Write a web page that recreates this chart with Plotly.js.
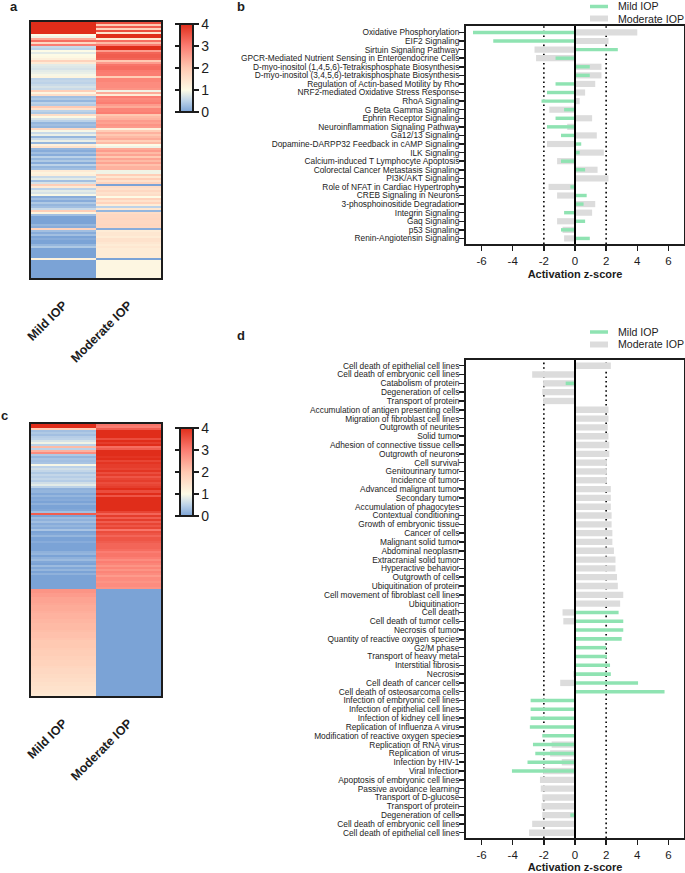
<!DOCTYPE html>
<html><head><meta charset="utf-8">
<script src="https://cdn.plot.ly/plotly-3.0.1.min.js"></script>
<style>html,body{margin:0;padding:0;background:#fff}#p{width:685px;height:873px}</style>
</head><body><div id="p"></div>
<script>
const heatCols = ['Mild IOP','Moderate IOP'];
const mildA = [4,4,4,4,4,4,1.0,0.9,2.4,3.2,
1.7,3.0,0.6,0.5,1.0,0.8,1.0,1.05,1.2,1.8,
1.35,0.8,0.75,0.7,0.8,0.85,0.95,1.15,0.5,0.55,
0.5,0.6,0.7,0.6,1.9,1.1,1.6,0.3,0.4,0.2,
0.5,0.4,2.0,1.5,0.5,0.4,1.6,1.05,0.7,0.5,
0.2,0.3,0.2,1.7,0.95,0.6,0.85,0.2,0.6,0.85,
0.2,1.2,1.5,0.2,0.1,0.3,0.1,0.5,0.2,0.4,
0.1,0.5,0.2,0.3,1.35,1.15,1.25,0.6,0.8,0.3,
0.7,1.9,1.35,0.5,0.8,0.7,0.95,0.1,0.3,0.1,
0.4,0.2,0.3,0.6,1.9,1.15,0.3,0,0,0,
0,0.2,0.1,1.8,0.3,0.1,0.3,0,0.1,0,
0,0.2,0.4,0,0,0,0,0,1.2,0,0,0,0,0,0,0,0,0];
const modA = [3.6,2.0,3.4,1.8,3.6,1.5,4,4,1.3,3.2,
2.2,3.0,4,4,2.6,3.3,3.4,3.4,3.3,2.0,
2.6,3.1,3.2,3.2,3.05,3.0,3.0,1.9,2.9,2.9,
2.8,2.8,2.8,2.7,0.9,2.4,1.3,3.0,2.8,2.9,
3.0,2.6,2.4,2.9,2.9,3.0,2.0,2.2,2.3,2.6,
2.5,2.7,2.6,1.2,1.9,2.3,2.0,2.2,2.4,1.9,
2.2,1.0,0.9,2.4,2.6,2.2,2.5,2.0,2.5,2.2,
2.5,2.1,2.3,2.3,0.9,0.9,1.9,1.4,1.9,1.5,
1.8,0,1.6,1.5,1.7,1.5,1.6,1.0,1.8,1.5,
1.8,1.3,0.5,1.4,0.2,1.6,1.7,1.7,1.75,1.7,
1.7,1.75,1.7,0.1,1.3,1.4,1.4,1.3,1.5,1.5,
1.4,1.3,1.4,1.3,1.3,1.3,1.3,1.3,0,1.1,1.1,1.1,1.1,1.1,1.1,1.1,1.1,1.1];
const mildC = [4,4,1.9,0.3,0.4,0.3,0.45,0.5,0.7,0.9,
0.5,2.2,0.5,2.3,2.8,0.4,0.2,0.35,0.3,0.35,
0.95,0.5,0.65,0.55,0.4,0.55,0.45,0.55,0.45,0.65,
0.8,0.5,0.15,0.2,0.05,0.2,0.05,0.1,0,0.15,
0,0,0.05,0.3,3.4,0,0.25,0.15,0.3,0.1,
0.2,0.1,0.35,0,0.05,0.2,0,0,0.1,0,
0,0,0,0.15,0.2,0,0.15,0.25,0.05,0,
0.25,0.05,0.2,0,0.15,0,0,0,0,0,
0,0,
2.7,2.7,2.6,2.6,2.5,2.5,2.5,2.45,2.4,2.4,
2.4,2.35,2.3,2.3,2.3,2.25,2.25,2.2,2.2,2.2,
2.15,2.1,2.1,2.1,2.05,2,2,2,2,1.95,
1.9,1.9,1.9,1.85,1.85,1.8,1.8,1.8,1.75,1.7,
1.7,1.7,1.65,1.65,1.6,1.6,1.55,1.55,1.5,1.5,
1.45,1.4,1.35];
const modC = [3.1,3.0,3.4,4,4,4,4,3.6,4,3.8,
4,3.2,3.4,4,4,4,3.9,4,3.7,3.9,
3.8,3.8,3.7,3.9,3.6,3.8,3.5,3.7,3.8,3.6,
3.7,3.8,4,3.6,4,3.5,4,4,4,4,
4,4,4,3.7,3.3,3.8,3.4,3.8,3.4,3.7,
3.5,3.7,3.1,3.6,3.5,3.3,3.5,3.5,3.4,3.3,
3.3,3.3,3.2,3.0,3.1,3.1,3.0,2.8,3.0,2.9,
2.7,2.9,2.7,2.9,2.8,2.6,2.8,2.8,2.7,2.8,
2.8,2.7,
0,0,0,0,0,0,0,0,0,0,
0,0,0,0,0,0,0,0,0,0,
0,0,0,0,0,0,0,0,0,0,
0,0,0,0,0,0,0,0,0,0,
0,0,0,0,0,0,0,0,0,0,
0,0,0];

const pathwaysB = ['Oxidative Phosphorylation','EIF2 Signaling','Sirtuin Signaling Pathway','GPCR-Mediated Nutrient Sensing in Enteroendocrine Cells','D-myo-inositol (1,4,5,6)-Tetrakisphosphate Biosynthesis','D-myo-inositol (3,4,5,6)-tetrakisphosphate Biosynthesis','Regulation of Actin-based Motility by Rho','NRF2-mediated Oxidative Stress Response','RhoA Signaling','G Beta Gamma Signaling','Ephrin Receptor Signaling','Neuroinflammation Signaling Pathway','Ga12/13 Signaling','Dopamine-DARPP32 Feedback in cAMP Signaling','ILK Signaling','Calcium-induced T Lymphocyte Apoptosis','Colorectal Cancer Metastasis Signaling','PI3K/AKT Signaling','Role of NFAT in Cardiac Hypertrophy','CREB Signaling in Neurons','3-phosphoinositide Degradation','Integrin Signaling','Gaq Signaling','p53 Signaling','Renin-Angiotensin Signaling'];
const mildB = [-6.55,-5.25,2.75,-1.25,0.95,0.95,-1.25,-1.8,-2.15,-0.7,-1.25,-1.8,-0.9,0.4,0.3,-0.9,0.65,0,-0.3,0.75,0.55,-0.7,0.65,-0.9,0.95];
const modB = [4.0,2.15,-2.6,-2.5,1.7,1.7,1.3,0.65,0.3,-1.65,1.1,-0.5,1.4,-1.8,1.85,-1.15,1.45,2.15,-1.7,-1.15,1.3,1.1,-1.15,-0.8,-0.7];

const functionsD = ['Cell death of epithelial cell lines','Cell death of embryonic cell lines','Catabolism of protein','Degeneration of cells','Transport of protein','Accumulation of antigen presenting cells','Migration of fibroblast cell lines','Outgrowth of neurites','Solid tumor','Adhesion of connective tissue cells','Outgrowth of neurons','Cell survival','Genitourinary tumor','Incidence of tumor','Advanced malignant tumor','Secondary tumor','Accumulation of phagocytes','Contextual conditioning','Growth of embryonic tissue','Cancer of cells','Malignant solid tumor','Abdominal neoplasm','Extracranial solid tumor','Hyperactive behavior','Outgrowth of cells','Ubiquitination of protein','Cell movement of fibroblast cell lines','Ubiquitination','Cell death','Cell death of tumor cells','Necrosis of tumor','Quantity of reactive oxygen species','G2/M phase','Transport of heavy metal','Interstitial fibrosis','Necrosis','Cell death of cancer cells','Cell death of osteosarcoma cells','Infection of embryonic cell lines','Infection of epithelial cell lines','Infection of kidney cell lines','Replication of Influenza A virus','Modification of reactive oxygen species','Replication of RNA virus','Replication of virus','Infection by HIV-1','Viral Infection','Apoptosis of embryonic cell lines','Passive avoidance learning','Transport of D-glucose','Transport of protein','Degeneration of cells','Cell death of embryonic cell lines','Cell death of epithelial cell lines'];
const mildD = [0,0,-0.6,0,0,0,0,0,0,0,0,0,0,0,0,0,0,0,0,0,0,0,0,0,0,0,0,0,2.8,3.1,3.1,3.0,2.0,2.05,2.25,2.3,4.05,5.75,-2.85,-2.85,-2.85,-2.9,-2.1,-2.7,-2.55,-3.05,-4.05,0,0,0,0,-0.3,0,0];
const modD = [2.3,-2.75,-2.05,-2.1,-2.05,2.15,2.15,2.1,2.15,2.2,2.2,2.05,2.05,2.05,2.3,2.3,2.3,2.35,2.35,2.4,2.4,2.5,2.6,2.6,2.7,2.75,3.1,2.9,-0.8,-0.75,0,0,0,0,0,-0.1,-0.95,0,0,0,0,0,0,-1.5,-1.6,-0.85,-2.05,-2.25,-2.2,-2.1,-2.15,-2.1,-2.75,-2.95];
const xTicks = [-6,-4,-2,0,2,4,6];
const xTickLabels = ['-6','-4','-2','0','2','4','6'];

const W=685,H=873;
const dx=(a,b)=>[a/W,b/W];
const dy=(top,bot)=>[1-bot/H,1-top/H];
const ink='#1c1c1c', GREEN='#8fe3b2', GREY='#dcdcdc';
const FF='"Liberation Sans", Arial, sans-serif';
const scale=[[0,'#7ba3d6'],[0.125,'#bcd2e8'],[0.25,'#fdfbe6'],[0.5,'#ffc9b2'],[0.75,'#fb7d72'],[1,'#e02d1a']];

function heat(m,n,xa,ya,top,len){
  return {type:'heatmap',z:m.map((v,i)=>[v,n[i]]),x:heatCols,xaxis:xa,yaxis:ya,zmin:0,zmax:4,colorscale:scale,hoverinfo:'skip',
    colorbar:{x:180/W,xanchor:'left',thickness:13,thicknessmode:'pixels',len:len,lenmode:'pixels',y:1-top/H,yanchor:'top',ypad:0,xpad:0,
      outlinewidth:2,outlinecolor:ink,borderwidth:0,tickvals:[0,1,2,3,4],ticks:'outside',ticklen:5,tickwidth:2,tickcolor:ink,tickprefix:'\u00a0',
      tickfont:{size:14,family:FF,color:ink}}};
}
function bars(x,names,color,width,xa,ya,label){
  return {type:'bar',orientation:'h',x:x,y:names.map((_,i)=>i),width:width,marker:{color:color,line:{width:0}},xaxis:xa,yaxis:ya,name:label,showlegend:false,hoverinfo:'skip'};
}
const data=[
  heat(mildA,modA,'x','y',24,88),
  bars(modB,pathwaysB,GREY,0.72,'x2','y2','Moderate IOP'),
  bars(mildB,pathwaysB,GREEN,0.4,'x2','y2','Mild IOP'),
  heat(mildC,modC,'x3','y3',428,88),
  bars(modD,functionsD,GREY,0.72,'x4','y4','Moderate IOP'),
  bars(mildD,functionsD,GREEN,0.4,'x4','y4','Mild IOP')
];
function heatX(dom,anchor){return {domain:dom,anchor:anchor,tickangle:-45,ticks:'',ticklabelstandoff:13,tickfont:{size:12.5,family:FF,color:ink,weight:'bold'},showline:true,linewidth:2,linecolor:ink,mirror:true,showgrid:false,zeroline:false,fixedrange:true};}
function heatY(dom,anchor){return {domain:dom,anchor:anchor,autorange:'reversed',showticklabels:false,ticks:'',showline:true,linewidth:2,linecolor:ink,mirror:true,showgrid:false,zeroline:false};}
function barX(dom,anchor,standoff){return {domain:dom,anchor:anchor,range:[-7,7],tickmode:'array',tickvals:xTicks,ticktext:xTickLabels,ticks:'outside',ticklen:5,tickwidth:1.5,tickcolor:ink,tickfont:{size:11.5,family:FF,color:ink},showline:true,linewidth:2,linecolor:ink,mirror:true,showgrid:false,zeroline:false,
  title:{text:'<b>Activation z-score</b>',font:{size:11,family:FF,color:ink},standoff:standoff}};}
function barY(dom,anchor,names,r){return {domain:dom,anchor:anchor,range:r,tickmode:'array',tickvals:names.map((_,i)=>i),ticktext:names,ticks:'outside',ticklen:5,tickwidth:1.5,tickcolor:ink,ticklabelstandoff:-2,tickfont:{size:8.35,family:FF,color:ink},showline:true,linewidth:2,linecolor:ink,mirror:true,showgrid:false,zeroline:false};}

const shapes=[];
[['x2','y2'],['x4','y4']].forEach(([xa,ya])=>{
  [-2,2].forEach(v=>shapes.push({type:'line',layer:'below',xref:xa,yref:ya+' domain',x0:v,x1:v,y0:0,y1:1,line:{color:'#000',width:1.6,dash:'1.6px,3px'}}));
  shapes.push({type:'line',layer:'above',xref:xa,yref:ya+' domain',x0:0,x1:0,y0:0,y1:1,line:{color:'#000',width:2}});
});
[[24,112],[428,516]].forEach(([t,b])=>{
  for(let k=0;k<5;k++){const py=t+(b-t)*k/4;
    shapes.push({type:'line',xref:'paper',yref:'paper',x0:175/W,x1:180/W,y0:1-py/H,y1:1-py/H,line:{color:ink,width:2}});}
});
function key(y,color,h){shapes.push({type:'rect',xref:'paper',yref:'paper',x0:590/W,x1:608/W,y0:1-(y+h/2)/H,y1:1-(y-h/2)/H,fillcolor:color,line:{width:0}});}
const anns=[];
function txt(t,x,y,size,bold){anns.push({text:bold?'<b>'+t+'</b>':t,xref:'paper',yref:'paper',x:x/W,y:1-y/H,xanchor:'left',yanchor:'middle',showarrow:false,borderpad:0,font:{size:size,family:FF,color:ink}});}
key(6.5,GREEN,3.5);key(18.5,GREY,6);key(332,GREEN,3.5);key(344.5,GREY,6);
txt('Mild IOP',617,6.5,10.6);txt('Moderate IOP',617,18.5,10.6);txt('Mild IOP',617,332,10.6);txt('Moderate IOP',617,344.5,10.6);
txt('a',9,6.5,13,true);txt('b',236,6.5,13,true);txt('c',0,415,13,true);txt('d',236,335,13,true);

const layout={width:W,height:H,margin:{l:0,r:0,t:0,b:0},paper_bgcolor:'#fff',plot_bgcolor:'#fff',barmode:'overlay',showlegend:false,
  font:{family:FF,color:ink},shapes:shapes,annotations:anns,
  xaxis:heatX(dx(31,161),'y'),yaxis:heatY(dy(22,278),'x'),
  xaxis2:barX(dx(466,684),'y2',5),yaxis2:barY(dy(26,244),'x2',pathwaysB,[24.65,-0.75]),
  xaxis3:heatX(dx(31,161),'y3'),yaxis3:heatY(dy(424,696),'x3'),
  xaxis4:barX(dx(466,684),'y4',5),yaxis4:barY(dy(360,838),'x4',functionsD,[53.6,-0.65])
};
Plotly.newPlot('p',data,layout,{staticPlot:true,displayModeBar:false});
</script></body></html>
